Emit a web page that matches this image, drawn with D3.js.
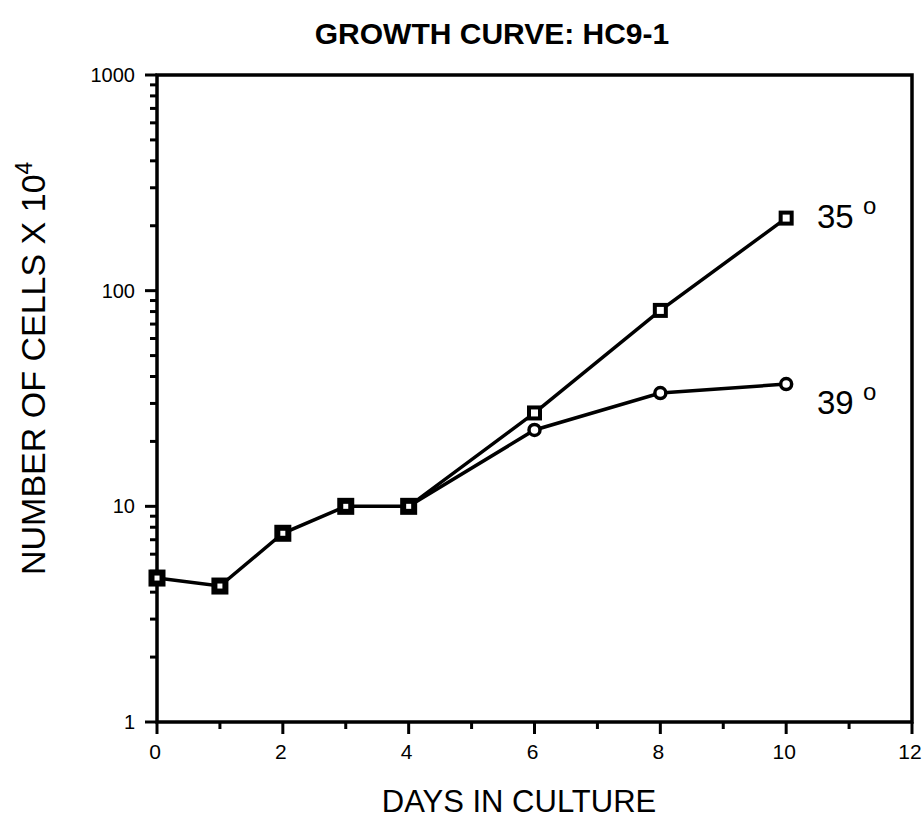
<!DOCTYPE html>
<html>
<head>
<meta charset="utf-8">
<script src="https://cdn.jsdelivr.net/npm/d3@7"></script>
<style>
  body { margin: 0; background: #fff; }
  svg text { font-family: "Liberation Sans", Arial, Helvetica, sans-serif; fill: #000; }
</style>
</head>
<body>
<svg id="chart" width="924" height="822"></svg>
<script>
// Growth curve data
const days35 = [0, 1, 2, 3, 4, 6, 8, 10];
const cells35 = [4.65, 4.27, 7.5, 10, 10, 27.1, 81, 217];
const days39 = [4, 6, 8, 10];
const cells39 = [10, 22.6, 33.5, 36.9];
const xTicks = [0, 2, 4, 6, 8, 10, 12];
const yTicks = [1, 10, 100, 1000];

const svg = d3.select("#chart");
const margin = { left: 157, right: 12, top: 75, bottom: 100 };
const width = +svg.attr("width");
const height = +svg.attr("height");

const x = d3.scaleLinear().domain([0, 12]).range([margin.left, width - margin.right]);
const y = d3.scaleLog().domain([1, 1000]).range([height - margin.bottom, margin.top]);

// Title
svg.append("text")
    .attr("x", 492)
    .attr("y", 44)
    .attr("text-anchor", "middle")
    .style("font-size", "30px")
    .style("font-weight", "bold")
    .text("GROWTH CURVE: HC9-1");

// minor ticks on y (2..9 per decade)
const yMinor = [];
[1, 10, 100].forEach(d => { for (let k = 2; k <= 9; k++) yMinor.push(d * k); });

const g = svg.append("g");

g.selectAll(".ymin").data(yMinor).enter().append("line")
    .attr("x1", x(0) - 7).attr("x2", x(0))
    .attr("y1", d => y(d)).attr("y2", d => y(d))
    .attr("stroke", "#000").attr("stroke-width", 3);

g.selectAll(".ymaj").data(yTicks).enter().append("line")
    .attr("x1", x(0) - 12).attr("x2", x(0))
    .attr("y1", d => y(d)).attr("y2", d => y(d))
    .attr("stroke", "#000").attr("stroke-width", 3);

g.selectAll(".ylab").data(yTicks).enter().append("text")
    .attr("x", x(0) - 22)
    .attr("y", d => y(d) + 7)
    .attr("text-anchor", "end")
    .style("font-size", "20px")
    .text(d => d);

// x ticks
g.selectAll(".xmin").data([1, 3, 5, 7, 9, 11]).enter().append("line")
    .attr("x1", d => x(d)).attr("x2", d => x(d))
    .attr("y1", y(1)).attr("y2", y(1) + 7)
    .attr("stroke", "#000").attr("stroke-width", 3);

g.selectAll(".xmaj").data(xTicks).enter().append("line")
    .attr("x1", d => x(d)).attr("x2", d => x(d))
    .attr("y1", y(1)).attr("y2", y(1) + 12)
    .attr("stroke", "#000").attr("stroke-width", 3);

g.selectAll(".xlab").data(xTicks).enter().append("text")
    .attr("x", d => x(d) - 2)
    .attr("y", y(1) + 37)
    .attr("text-anchor", "middle")
    .style("font-size", "21px")
    .text(d => d);

// frame
svg.append("rect")
    .attr("x", x(0)).attr("y", y(1000))
    .attr("width", x(12) - x(0)).attr("height", y(1) - y(1000))
    .attr("fill", "none").attr("stroke", "#000").attr("stroke-width", 3.5);

// axis titles
svg.append("text")
    .attr("x", 519)
    .attr("y", 812)
    .attr("text-anchor", "middle")
    .style("font-size", "31px")
    .text("DAYS IN CULTURE");

const yl = svg.append("text")
    .attr("transform", "translate(45,575) rotate(-90)")
    .attr("text-anchor", "start")
    .style("font-size", "34px");
yl.append("tspan").text("NUMBER OF CELLS X 10");
yl.append("tspan").attr("dy", -13).style("font-size", "23px").text("4");

// lines
const line = d3.line().x(d => x(d[0])).y(d => y(d[1]));
const pts35 = days35.map((d, i) => [d, cells35[i]]);
const pts39 = days39.map((d, i) => [d, cells39[i]]);

svg.append("path").datum(pts39).attr("d", line)
    .attr("fill", "none").attr("stroke", "#000").attr("stroke-width", 3.5);
svg.append("path").datum(pts35).attr("d", line)
    .attr("fill", "none").attr("stroke", "#000").attr("stroke-width", 3.5);

// circle markers (39)
svg.selectAll(".c39").data(pts39.slice(1)).enter().append("circle")
    .attr("cx", d => x(d[0])).attr("cy", d => y(d[1]))
    .attr("r", 5.5)
    .attr("fill", "#fff").attr("stroke", "#000").attr("stroke-width", 3.5);

// square markers (35)
svg.selectAll(".s35").data(pts35).enter().append("rect")
    .attr("x", d => x(d[0]) - 5.5).attr("y", d => y(d[1]) - 5.5)
    .attr("width", 11).attr("height", 11)
    .attr("fill", "#fff").attr("stroke", "#000")
    .attr("stroke-width", (d, i) => days35[i] <= 4 ? 6 : 4);

// series labels
const lab35 = svg.append("text").attr("x", 817).attr("y", 228).style("font-size", "33px");
lab35.append("tspan").text("35 ");
lab35.append("tspan").attr("dy", -14).style("font-size", "24px").text("o");

const lab39 = svg.append("text").attr("x", 817).attr("y", 414).style("font-size", "33px");
lab39.append("tspan").text("39 ");
lab39.append("tspan").attr("dy", -14).style("font-size", "24px").text("o");
</script>
</body>
</html>
